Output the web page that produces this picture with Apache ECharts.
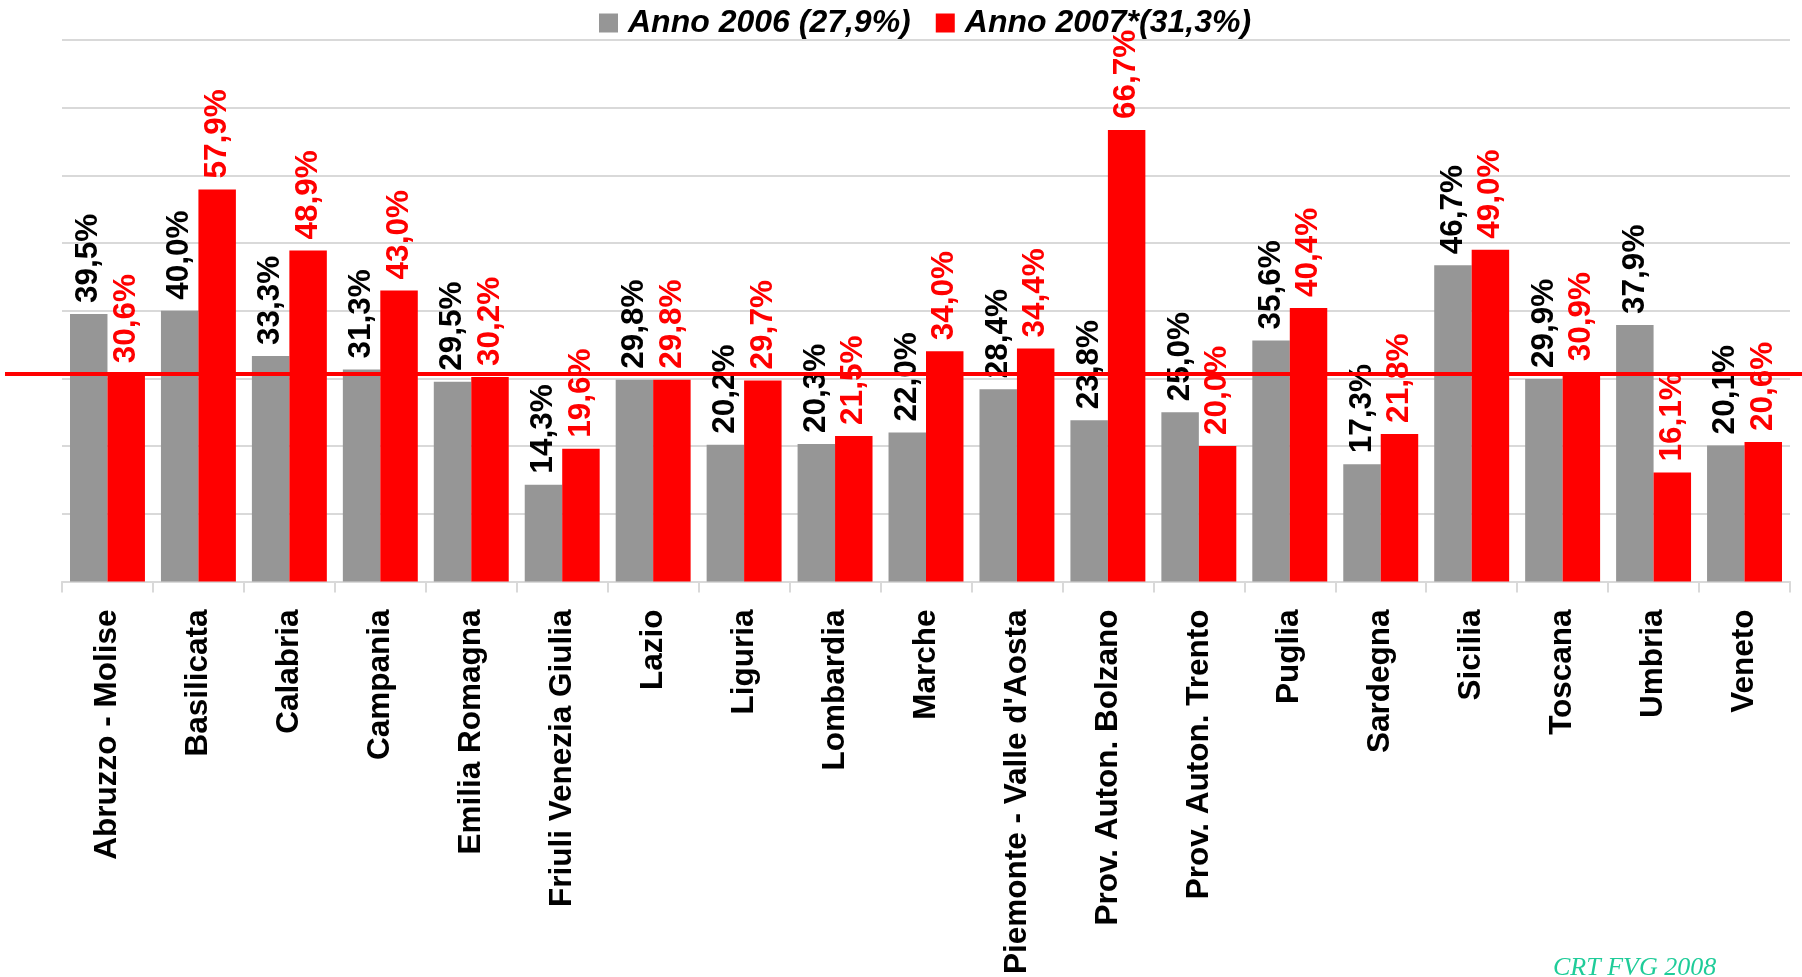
<!DOCTYPE html>
<html>
<head>
<meta charset="utf-8">
<script src="https://cdn.jsdelivr.net/npm/echarts/dist/echarts.min.js"></script>
<style>
  html, body { margin: 0; padding: 0; background: #fff; }
  #main { width: 1802px; height: 977px; }
</style>
</head>
<body>
<div id="main"></div>
<script>
var regions = ['Abruzzo - Molise', 'Basilicata', 'Calabria', 'Campania', 'Emilia Romagna',
  'Friuli Venezia Giulia', 'Lazio', 'Liguria', 'Lombardia', 'Marche',
  'Piemonte - Valle d\'Aosta', 'Prov. Auton. Bolzano', 'Prov. Auton. Trento', 'Puglia',
  'Sardegna', 'Sicilia', 'Toscana', 'Umbria', 'Veneto'];
var seriesNames = ['Anno 2006 (27,9%)', 'Anno 2007*(31,3%)'];
var anno2006 = [39.5, 40.0, 33.3, 31.3, 29.5, 14.3, 29.8, 20.2, 20.3, 22.0, 28.4, 23.8, 25.0, 35.6, 17.3, 46.7, 29.9, 37.9, 20.1];
var anno2007 = [30.6, 57.9, 48.9, 43.0, 30.2, 19.6, 29.8, 29.7, 21.5, 34.0, 34.4, 66.7, 20.0, 40.4, 21.8, 49.0, 30.9, 16.1, 20.6];
var refLine = [30.8];

var FONT = '"Liberation Sans", Arial, sans-serif';

function pct(p) {
  return p.value.toFixed(1).replace('.', ',') + '%';
}

function barLabel(color) {
  return {
    show: true,
    position: 'top',
    rotate: 90,
    align: 'left',
    verticalAlign: 'middle',
    distance: 11,
    formatter: pct,
    color: color,
    fontFamily: FONT,
    fontWeight: 'bold',
    fontSize: 31.5
  };
}

var chart = echarts.init(document.getElementById('main'));
chart.setOption({
  animation: false,
  legend: {
    data: seriesNames,
    left: 594,
    top: 2,
    itemWidth: 19,
    itemHeight: 19,
    itemGap: 25,
    icon: 'rect',
    textStyle: {
      fontFamily: FONT,
      fontWeight: 'bold',
      fontStyle: 'italic',
      fontSize: 32,
      color: '#000',
      padding: [0, 0, 0, 5]
    }
  },
  grid: [
    { left: 62, right: 12, top: 40, bottom: 394 },
    { left: 5, right: 0, top: 40, bottom: 394 }
  ],
  xAxis: [{
    type: 'category',
    gridIndex: 0,
    data: regions,
    axisLine: { lineStyle: { color: '#d9d9d9', width: 2 } },
    axisTick: { show: true, length: 11, lineStyle: { color: '#d9d9d9', width: 2 } },
    axisLabel: {
      rotate: 90,
      margin: 28,
      interval: 0,
      color: '#000',
      fontFamily: FONT,
      fontWeight: 'bold',
      fontSize: 31.5
    }
  }, {
    type: 'value',
    gridIndex: 1,
    min: 0,
    max: 1,
    show: false
  }],
  yAxis: [{
    type: 'value',
    gridIndex: 0,
    min: 0,
    max: 80,
    interval: 10,
    axisLine: { show: false },
    axisTick: { show: false },
    axisLabel: { show: false },
    splitLine: { lineStyle: { color: '#d9d9d9', width: 2 } }
  }, {
    type: 'value',
    gridIndex: 1,
    min: 0,
    max: 80,
    show: false,
    splitLine: { show: false }
  }],
  series: [{
    name: seriesNames[0],
    type: 'bar',
    data: anno2006,
    barGap: '0%',
    barCategoryGap: '17.6%',
    itemStyle: { color: '#969696' },
    label: barLabel('#000')
  }, {
    name: seriesNames[1],
    type: 'bar',
    data: anno2007,
    itemStyle: { color: '#ff0000' },
    label: barLabel('#ff0000')
  }, {
    type: 'line',
    xAxisIndex: 1,
    yAxisIndex: 1,
    data: [[0, refLine[0]], [1, refLine[0]]],
    symbol: 'none',
    z: 10,
    lineStyle: { color: '#ff0000', width: 4 },
    silent: true
  }],
  graphic: [{
    type: 'text',
    left: 1553,
    top: 955,
    style: {
      text: 'CRT FVG 2008',
      fill: '#1fcc99',
      font: 'italic 26px "Liberation Serif", "Times New Roman", serif'
    }
  }]
});
</script>
</body>
</html>
